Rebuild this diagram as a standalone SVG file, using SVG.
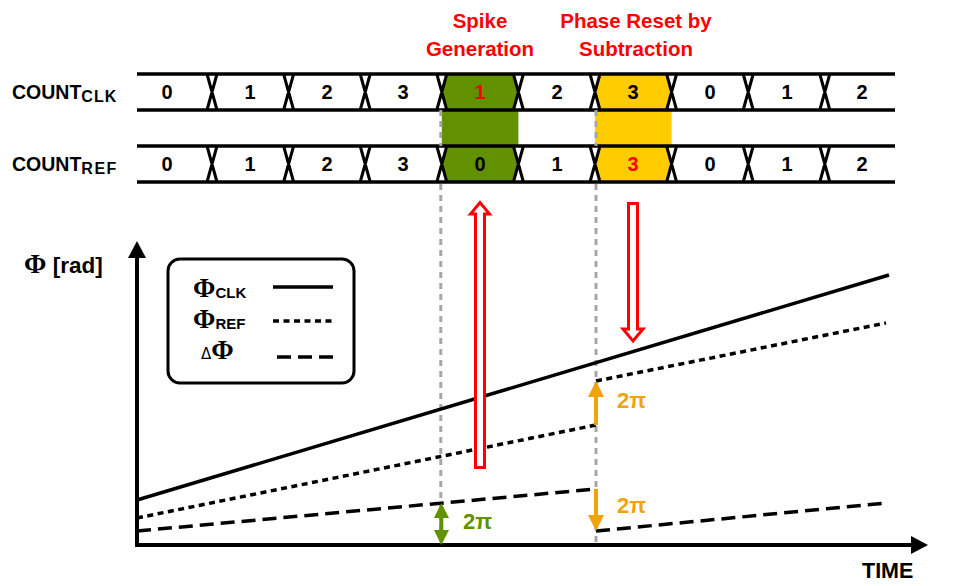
<svg xmlns="http://www.w3.org/2000/svg" width="959" height="586" viewBox="0 0 959 586">
<style>
text{font-family:"Liberation Sans",Arial,sans-serif;font-weight:bold;}
.phi{font-family:"Liberation Serif","Times New Roman",serif;font-weight:bold;}
.title{font-size:20.5px;fill:#FF0000;text-anchor:middle;}
.dig{font-size:20px;fill:#000;text-anchor:middle;}
.red{fill:#FF0000;}
.bus{stroke:#000;stroke-width:3.5;fill:none;}
.x{stroke:#000;stroke-width:3;fill:none;}
.grey{stroke:#A6A6A6;stroke-width:3;stroke-dasharray:6 5;fill:none;}
.solid{stroke:#000;stroke-width:3.5;fill:none;}
.dot{stroke:#000;stroke-width:3.5;stroke-dasharray:6 4.5;fill:none;}
.dash{stroke:#000;stroke-width:3.5;stroke-dasharray:14 7;fill:none;}
.axis{stroke:#000;stroke-width:4;fill:none;}
.big{fill:#fff;stroke:#FF0000;stroke-width:3;stroke-linejoin:miter;}
.green{fill:#619100;}
.yellow{fill:#FFCC00;}
.orange{fill:#F0A30A;}
</style>

<!-- titles -->
<g id="title-spike">
<text class="title" x="480" y="28">Spike</text>
<text class="title" x="480" y="56">Generation</text>
</g>
<g id="title-reset">
<text class="title" x="636" y="28">Phase Reset by</text>
<text class="title" x="636" y="56">Subtraction</text>
</g>

<!-- highlight regions -->
<g id="highlight-spike">
<polygon class="green" points="446.8,74 513.4,74 518.4,92 513.4,110 446.8,110 441.8,92"/>
<rect class="green" x="441.8" y="110" width="76.6" height="36"/>
<polygon class="green" points="446.8,146 513.4,146 518.4,164 513.4,182 446.8,182 441.8,164"/>
</g>
<g id="highlight-reset">
<polygon class="yellow" points="600,74 666.6,74 671.6,92 666.6,110 600,110 595,92"/>
<rect class="yellow" x="595" y="110" width="76.6" height="36"/>
<polygon class="yellow" points="600,146 666.6,146 671.6,164 666.6,182 600,182 595,164"/>
</g>

<!-- bus COUNT_CLK -->
<g id="bus-clk">
<text x="12" y="99" font-size="19.5">COUNT<tspan font-size="16" dy="3" letter-spacing="1">CLK</tspan></text>
<line class="bus" x1="137" y1="74" x2="895" y2="74"/>
<line class="bus" x1="137" y1="110" x2="895" y2="110"/>
<path class="x" d="M207,74L217,110M217,74L207,110 M283.6,74L293.6,110M293.6,74L283.6,110 M360.2,74L370.2,110M370.2,74L360.2,110 M436.8,74L446.8,110M446.8,74L436.8,110 M513.4,74L523.4,110M523.4,74L513.4,110 M590,74L600,110M600,74L590,110 M666.6,74L676.6,110M676.6,74L666.6,110 M743.2,74L753.2,110M753.2,74L743.2,110 M819.8,74L829.8,110M829.8,74L819.8,110"/>
<text class="dig" x="167" y="99">0</text>
<text class="dig" x="250" y="99">1</text>
<text class="dig" x="327" y="99">2</text>
<text class="dig" x="403" y="99">3</text>
<text class="dig red" x="480" y="99">1</text>
<text class="dig" x="557" y="99">2</text>
<text class="dig" x="633" y="99">3</text>
<text class="dig" x="710" y="99">0</text>
<text class="dig" x="787" y="99">1</text>
<text class="dig" x="862" y="99">2</text>
</g>

<!-- bus COUNT_REF -->
<g id="bus-ref">
<text x="12" y="171" font-size="19.5">COUNT<tspan font-size="16" dy="3" letter-spacing="1.5">REF</tspan></text>
<line class="bus" x1="137" y1="146" x2="895" y2="146"/>
<line class="bus" x1="137" y1="182" x2="895" y2="182"/>
<path class="x" d="M207,146L217,182M217,146L207,182 M283.6,146L293.6,182M293.6,146L283.6,182 M360.2,146L370.2,182M370.2,146L360.2,182 M436.8,146L446.8,182M446.8,146L436.8,182 M513.4,146L523.4,182M523.4,146L513.4,182 M590,146L600,182M600,146L590,182 M666.6,146L676.6,182M676.6,146L666.6,182 M743.2,146L753.2,182M753.2,146L743.2,182 M819.8,146L829.8,182M829.8,146L819.8,182"/>
<text class="dig" x="167" y="171">0</text>
<text class="dig" x="250" y="171">1</text>
<text class="dig" x="327" y="171">2</text>
<text class="dig" x="403" y="171">3</text>
<text class="dig" x="480" y="171">0</text>
<text class="dig" x="557" y="171">1</text>
<text class="dig red" x="633" y="171">3</text>
<text class="dig" x="710" y="171">0</text>
<text class="dig" x="787" y="171">1</text>
<text class="dig" x="862" y="171">2</text>
</g>

<!-- connectors / plot lines -->
<g id="connectors">
<line class="grey" x1="440.8" y1="184" x2="440.8" y2="545"/>
<line class="grey" x1="596" y1="184" x2="596" y2="545"/>
<line class="grey" x1="440.8" y1="110" x2="440.8" y2="146"/>
<line class="grey" x1="596" y1="110" x2="596" y2="146"/>
<!-- phase lines -->
<line class="solid" x1="137" y1="500" x2="889" y2="275"/>
<line class="dot" x1="137" y1="518" x2="596" y2="425"/>
<line class="dot" x1="596" y1="381" x2="886" y2="323"/>
<line class="dash" x1="137" y1="531" x2="596" y2="489"/>
<line class="dash" x1="596" y1="531" x2="886" y2="503"/>
<!-- axes -->
<line class="axis" x1="137" y1="547" x2="137" y2="255"/>
<polygon points="128,258 137,241 146,258"/>
<line class="axis" x1="135" y1="545" x2="914" y2="545"/>
<polygon points="911,536 928,545 911,554"/>
<!-- red block arrows -->
<polygon class="big" points="475.5,467.5 475.5,214 470.5,214 480,202.5 489.5,214 484.5,214 484.5,467.5"/>
<polygon class="big" points="628.5,203.5 637.5,203.5 637.5,329 643,329 633,341 623,329 628.5,329"/>
<!-- green 2pi double arrow -->
<rect class="green" x="439.3" y="515" width="4" height="17"/>
<polygon class="green" points="434,518 441.3,503 449,518"/>
<polygon class="green" points="434,530 441.3,545 449,530"/>
<!-- orange 2pi arrows -->
<rect class="orange" x="594" y="394" width="4" height="31"/>
<polygon class="orange" points="588,397 596,381 604,397"/>
<rect class="orange" x="594" y="489" width="4" height="28"/>
<polygon class="orange" points="588,515 596,531 604,515"/>
</g>

<!-- labels -->
<g id="labels">
<text x="463" y="529" font-size="22" fill="#619100">2π</text>
<text x="617" y="408" font-size="22" fill="#F0A30A">2π</text>
<text x="617" y="513" font-size="22" fill="#F0A30A">2π</text>
<text x="24" y="273" font-size="22.5"><tspan class="phi" font-size="27">Φ</tspan> [rad]</text>
<text x="862" y="578" font-size="21.5">TIME</text>
</g>

<!-- legend -->
<g id="legend">
<rect x="168" y="259" width="186" height="124" rx="12" ry="12" fill="none" stroke="#000" stroke-width="3"/>
<text x="193" y="297"><tspan class="phi" font-size="27">Φ</tspan><tspan font-size="15" dy="1">CLK</tspan></text>
<line class="solid" x1="273" y1="287" x2="333" y2="287"/>
<text x="193" y="328"><tspan class="phi" font-size="27">Φ</tspan><tspan font-size="15" dy="1">REF</tspan></text>
<line class="dot" x1="273" y1="321" x2="333" y2="321"/>
<text x="201" y="359"><tspan font-family="DejaVu Sans, sans-serif" font-weight="normal" font-size="15">Δ</tspan><tspan class="phi" font-size="27">Φ</tspan></text>
<line class="dash" x1="277" y1="357" x2="333" y2="357"/>
</g>
</svg>
